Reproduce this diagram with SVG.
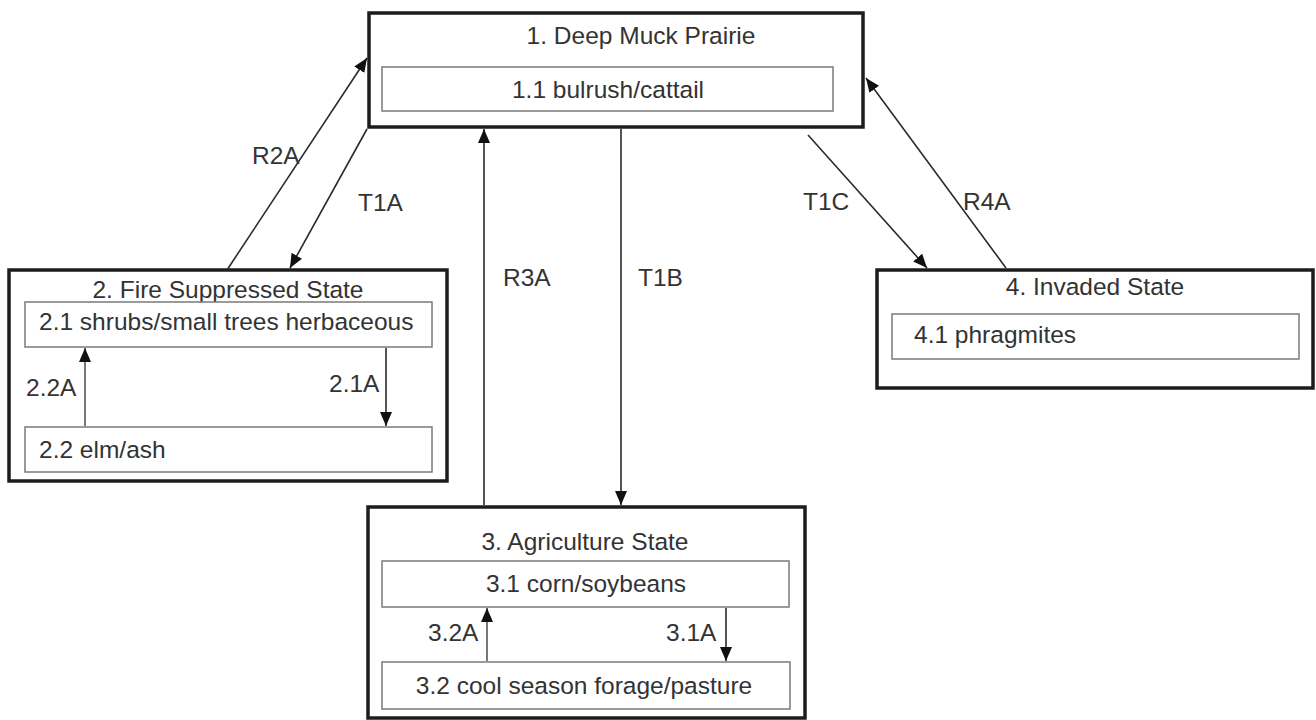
<svg xmlns="http://www.w3.org/2000/svg" width="1316" height="720" viewBox="0 0 1316 720">
<style>
.state{fill:#fff;stroke:#1c1c1c;stroke-width:3.5}
.comm{fill:#fff;stroke:#7a7a7a;stroke-width:1.5}
text{font-family:"Liberation Sans",Arial,sans-serif;font-size:24.5px;fill:#333}
.c{text-anchor:middle}
.conn line{stroke:#2a2a2a;stroke-width:1.6;marker-end:url(#ah)}
.conn line.g{stroke:#555}
</style>
<defs>
<marker id="ah" markerUnits="userSpaceOnUse" markerWidth="14" markerHeight="12" viewBox="0 0 14 12" refX="14" refY="6" orient="auto">
<path d="M0,0 L14,6 L0,12 Z" fill="#111"/>
</marker>
</defs>
<rect width="1316" height="720" fill="#fff"/>
<g id="state1">
<rect class="state" x="369" y="13" width="494" height="114"/>
<text class="c" x="641" y="44">1. Deep Muck Prairie</text>
<rect class="comm" x="382" y="67" width="451" height="44"/>
<text class="c" x="608" y="98">1.1 bulrush/cattail</text>
</g>
<g id="state2">
<rect class="state" x="9" y="270" width="438" height="211"/>
<text class="c" x="228" y="298">2. Fire Suppressed State</text>
<rect class="comm" x="25" y="302" width="407" height="45"/>
<text x="39" y="330">2.1 shrubs/small trees herbaceous</text>
<rect class="comm" x="25" y="427" width="407" height="45"/>
<text x="39" y="458">2.2 elm/ash</text>
<text x="26" y="396">2.2A</text>
<text x="329" y="392">2.1A</text>
</g>
<g id="state3">
<rect class="state" x="368" y="507" width="437" height="211"/>
<text class="c" x="585" y="550">3. Agriculture State</text>
<rect class="comm" x="382" y="561" width="407" height="46"/>
<text class="c" x="586" y="592">3.1 corn/soybeans</text>
<rect class="comm" x="382" y="662" width="408" height="47"/>
<text class="c" x="584" y="694">3.2 cool season forage/pasture</text>
<text x="428" y="641">3.2A</text>
<text x="666" y="641">3.1A</text>
</g>
<g id="state4">
<rect class="state" x="877" y="270" width="436" height="118"/>
<text class="c" x="1095" y="295">4. Invaded State</text>
<rect class="comm" x="892" y="314" width="407" height="45"/>
<text x="914" y="343">4.1 phragmites</text>
</g>
<g id="connectors" class="conn">
<line x1="227" y1="270" x2="367" y2="58"/>
<line x1="367" y1="129" x2="290" y2="268"/>
<line x1="484" y1="505" x2="484" y2="129"/>
<line x1="621" y1="129" x2="621" y2="505"/>
<line x1="808" y1="135" x2="927" y2="268"/>
<line x1="1006" y1="268" x2="866" y2="78"/>
<line class="g" x1="85" y1="426" x2="85" y2="348"/>
<line x1="386" y1="348" x2="386" y2="426"/>
<line class="g" x1="487" y1="661" x2="487" y2="608"/>
<line x1="726" y1="608" x2="726" y2="661"/>
</g>
<g id="labels">
<text x="252" y="164">R2A</text>
<text x="358" y="211">T1A</text>
<text x="503" y="286">R3A</text>
<text x="638" y="286">T1B</text>
<text x="803" y="210">T1C</text>
<text x="963" y="210">R4A</text>
</g>
</svg>
